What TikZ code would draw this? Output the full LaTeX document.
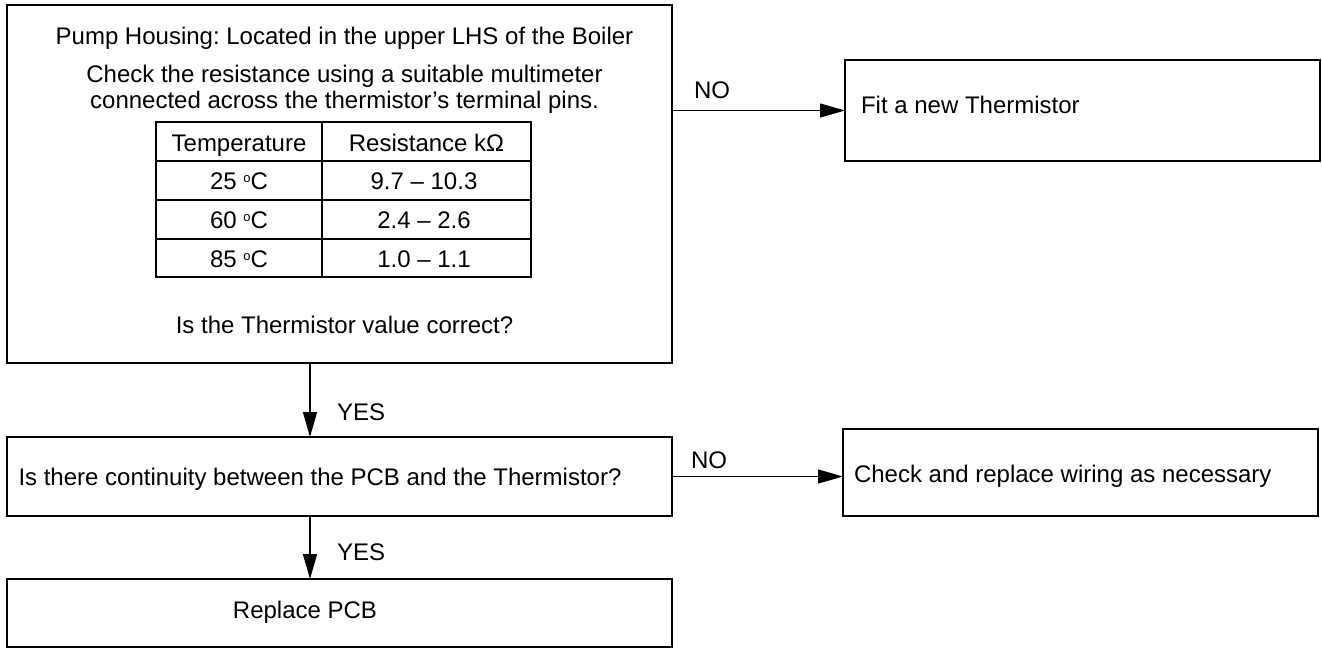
\documentclass[tikz,border=0pt]{standalone}
\usepackage{fontspec}
\setmainfont{Liberation Sans}
\usetikzlibrary{arrows.meta}
\newcommand{\degsup}{\raisebox{0.55ex}{\fontsize{13}{13}\selectfont o}}
\begin{document}
\begin{tikzpicture}[x=1pt,y=-1pt,
  every node/.style={font=\fontsize{24}{28}\selectfont\frenchspacing, inner sep=0pt, outer sep=0pt},
  box/.style={draw, line width=1.5pt, rectangle, minimum width=#1},
  lbl/.style={anchor=base west},
  ctr/.style={anchor=base},
  arr/.style={line width=1.2pt, -{Triangle[length=25pt,width=14pt]}},
  grid/.style={line width=1.5pt}]
\useasboundingbox (0,0) rectangle (1322,651);
% boxes
\node[box=665pt, minimum height=358pt] (main) at (339.5,184) {};
\node[box=475pt, minimum height=101pt] (fit) at (1082.5,110.5) {};
\node[box=665pt, minimum height=79pt] (cont) at (339.5,476.5) {};
\node[box=475pt, minimum height=87pt] (wire) at (1080.5,472.5) {};
\node[box=665pt, minimum height=68pt] (pcb) at (339.5,613) {};
% main box text
\node[ctr] (t1) at (344.5,44) {Pump Housing: Located in the upper LHS of the Boiler};
\node[ctr] (t2) at (344.5,82) {Check the resistance using a suitable multimeter};
\node[ctr] (t3) at (344.5,108) {connected across the thermistor’s terminal pins.};
\node[ctr] (t4) at (344.5,333) {Is the Thermistor value correct?};
% table
\draw[grid] (156,122) rectangle (531,277);
\draw[grid] (322,122) -- (322,277);
\draw[grid] (156,161) -- (531,161);
\draw[grid] (156,200) -- (531,200);
\draw[grid] (156,239) -- (531,239);
\node[ctr] (h1) at (239,151) {Temperature};
\node[ctr] (h2) at (426.5,151) {Resistance kΩ};
\node[ctr] (r1a) at (239,189.5) {25 \degsup C};
\node[ctr] (r1b) at (424,189.5) {9.7 – 10.3};
\node[ctr] (r2a) at (239,228.5) {60 \degsup C};
\node[ctr] (r2b) at (424,228.5) {2.4 – 2.6};
\node[ctr] (r3a) at (239,267.5) {85 \degsup C};
\node[ctr] (r3b) at (424,267.5) {1.0 – 1.1};
% other box texts
\node[lbl] (fitt) at (861,113) {Fit a new Thermistor};
\node[lbl] (contt) at (18.5,485) {Is there continuity between the PCB and the Thermistor?};
\node[lbl] (wiret) at (854,482) {Check and replace wiring as necessary};
\node[ctr] (pcbt) at (305,618) {Replace PCB};
% connectors
\coordinate (ax) at (310,0);
\draw[arr] (main.east |- fit.west) -- (fit.west);
\draw[arr] (main.south -| ax) -- (cont.north -| ax);
\draw[arr] (cont.east) -- (cont.east -| wire.west);
\draw[arr] (cont.south -| ax) -- (pcb.north -| ax);
% connector labels
\node[lbl] (no1) at (694,98) {NO};
\node[lbl] (yes1) at (337,420) {YES};
\node[lbl] (no2) at (691,468) {NO};
\node[lbl] (yes2) at (337,560) {YES};
\end{tikzpicture}
\end{document}
